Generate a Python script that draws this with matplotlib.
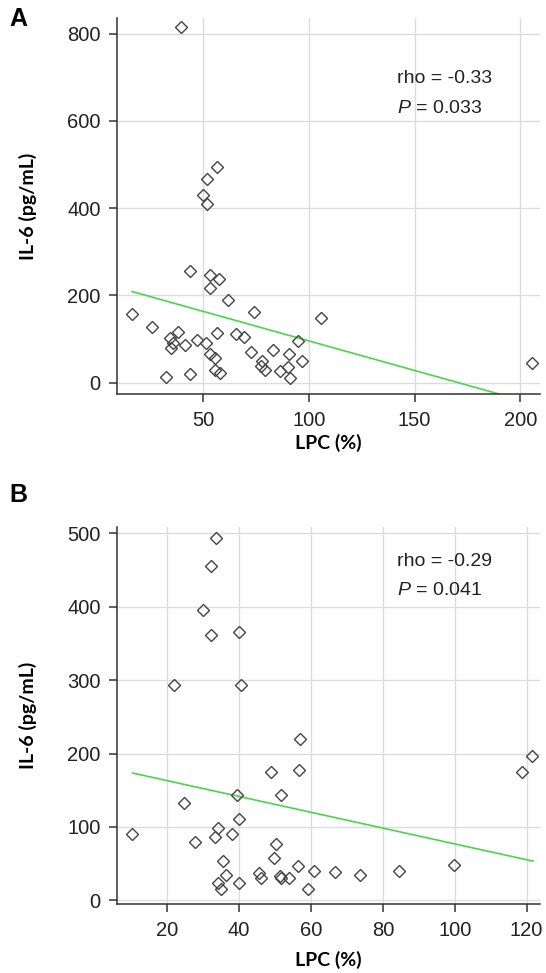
import matplotlib
matplotlib.use('Agg')
import matplotlib.pyplot as plt
import numpy as np

# panel A: LPC (%) vs IL-6 (pg/mL)
lpc_a = [39.5, 56.4, 52.1, 50.1, 52.1, 43.9, 53.4, 57.8, 53.1, 61.6,
         16.5, 74.0, 106.0, 26.1, 38.1, 34.2, 35.9, 34.8, 41.4, 47.2,
         51.5, 56.4, 65.4, 69.3, 53.1, 55.6, 72.9, 83.1, 95.1, 90.7,
         96.8, 77.9, 77.5, 79.1, 86.2, 90.2, 91.2, 55.6, 58.1, 32.4,
         43.9, 205.7]
il6_a = [816, 495, 466, 431, 410, 256, 247, 237, 217, 189,
         158, 162, 148, 128, 116, 102, 91, 79, 86, 98,
         91, 114, 112, 104, 66, 57, 70, 76, 96, 66,
         50, 50, 38, 28, 27, 36, 10, 28, 22, 12,
         20, 46]
fit_a = (231.4, -1.356)   # intercept, slope
fit_a_x = (16.5, 189.8)

# panel B
lpc_b = [33.7, 32.1, 29.9, 32.1, 39.9, 21.9, 40.6, 57.0, 48.8, 56.8,
         39.3, 51.7, 24.8, 39.9, 34.2, 10.3, 27.7, 33.3, 37.9, 50.3,
         49.8, 35.5, 36.4, 34.2, 35.1, 40.1, 45.5, 46.0, 51.4, 51.7,
         53.9, 56.4, 60.9, 59.3, 66.7, 73.7, 84.6, 99.7, 118.7, 121.6]
il6_b = [493, 456, 396, 361, 366, 294, 294, 220, 175, 177,
         143, 143, 132, 111, 98, 91, 80, 86, 91, 77,
         58, 53, 34, 23, 16, 23, 37, 31, 33, 31,
         30, 47, 40, 15, 38, 35, 40, 48, 175, 196]
fit_b = (184.6, -1.077)
fit_b_x = (10.4, 121.8)

stats_a = ('-0.33', '0.033')
stats_b = ('-0.29', '0.041')

plt.rcParams['font.family'] = ['Liberation Sans', 'DejaVu Sans']
plt.rcParams['mathtext.fontset'] = 'custom'
plt.rcParams['mathtext.it'] = 'Liberation Sans:italic'

fig = plt.figure(figsize=(5.46, 9.73), dpi=100)
ax_a = fig.add_axes([0.2148, 0.5948, 0.774, 0.3864])
ax_b = fig.add_axes([0.2148, 0.0709, 0.774, 0.3878])

panels = [
    (ax_a, lpc_a, il6_a, fit_a, fit_a_x, stats_a, (9.5, 209.2), (-26.6, 835.5),
     [50, 100, 150, 200], [0, 200, 400, 600, 800], 0.841, 0.761, 3),
    (ax_b, lpc_b, il6_b, fit_b, fit_b_x, stats_b, (6.1, 123.7), (-5, 509),
     [20, 40, 60, 80, 100, 120], [0, 100, 200, 300, 400, 500], 0.909, 0.832, 8),
]

for ax, x, y, fit, fx, st, xl, yl, xt, yt, ry, py, xpad in panels:
    ax.grid(True, color='#dcdcdc', linewidth=1.0)
    ax.set_axisbelow(True)
    lx = np.array(fx)
    ax.plot(lx, fit[0] + fit[1] * lx, color='#4cd44c', linewidth=1.2, zorder=2)
    ax.plot(x, y, linestyle='none', marker='D', markersize=6,
            markerfacecolor='none', markeredgecolor='#444444',
            markeredgewidth=1.0, zorder=3)
    ax.set_xlim(*xl)
    ax.set_ylim(*yl)
    ax.set_xticks(xt)
    ax.set_yticks(yt)
    for s in ['top', 'right']:
        ax.spines[s].set_visible(False)
    for s in ['left', 'bottom']:
        ax.spines[s].set_color('#333333')
        ax.spines[s].set_linewidth(1.1)
    ax.tick_params(direction='out', length=6, width=1.1, color='#333333',
                   labelsize=14.5, labelcolor='#222222', pad=6,
                   labelfontfamily='Liberation Sans')
    ax.set_xlabel('LPC (%)', fontsize=14, fontweight='bold',
                  family=['Lato', 'DejaVu Sans'], labelpad=xpad)
    ax.set_ylabel('IL-6 (pg/mL)', fontsize=14, fontweight='bold',
                  family=['Lato', 'DejaVu Sans'], labelpad=22)
    ax.text(0.662, ry, 'rho = ' + st[0], transform=ax.transAxes,
            fontsize=14, va='center', color='#222222')
    ax.text(0.662, py, '$\\it{P}$ = ' + st[1], transform=ax.transAxes,
            fontsize=14, va='center', color='#222222')

fig.text(9 / 546, 1 - 19 / 973, 'A', fontsize=18, fontweight='bold', va='center')
fig.text(9 / 546, 1 - 495 / 973, 'B', fontsize=18, fontweight='bold', va='center')

fig.savefig('out.png', dpi=100)
